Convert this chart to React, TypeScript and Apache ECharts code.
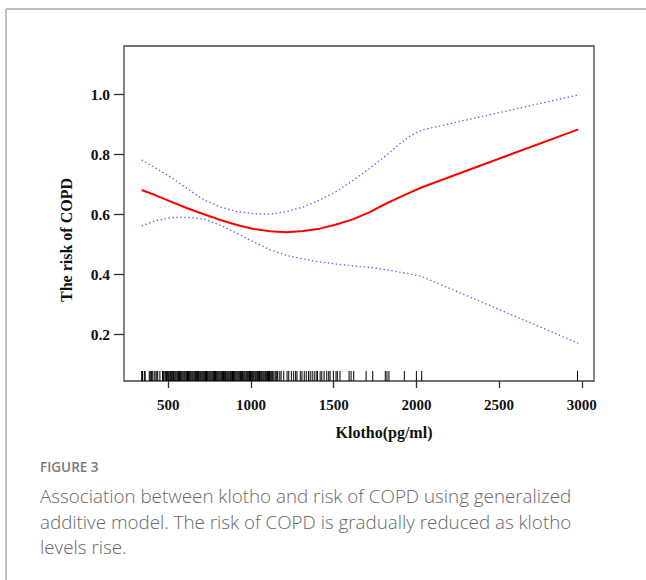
import React, { useEffect, useRef } from "react";
import * as echarts from "echarts";

const xTicks = [500, 1000, 1500, 2000, 2500, 3000];
const yTicks = [0.2, 0.4, 0.6, 0.8, 1.0];

const klotho = [339, 420, 515, 615, 715, 815, 915, 1015, 1115, 1215, 1315, 1415, 1515, 1615, 1715, 1815, 1900, 1960, 2034, 2979];
const fitRisk = [0.681, 0.664, 0.642, 0.62, 0.6, 0.581, 0.564, 0.551, 0.543, 0.54, 0.544, 0.552, 0.566, 0.583, 0.606, 0.635, 0.657, 0.672, 0.69, 0.883];
const upperRisk = [0.781, 0.755, 0.724, 0.685, 0.648, 0.624, 0.609, 0.602, 0.6, 0.609, 0.624, 0.647, 0.676, 0.712, 0.752, 0.795, 0.835, 0.86, 0.881, 0.998];
const lowerRisk = [0.561, 0.578, 0.589, 0.59, 0.584, 0.563, 0.537, 0.508, 0.482, 0.463, 0.451, 0.441, 0.434, 0.428, 0.423, 0.415, 0.407, 0.401, 0.392, 0.17];

const rugKlotho = [
  339, 344, 355, 360, 385, 391, 399, 403, 414, 420, 430, 436, 449, 465, 470, 474, 482, 489, 494, 499,
  503, 509, 514, 520, 524, 531, 535, 541, 546, 552, 557, 562, 568, 573, 578, 584, 589, 595, 600, 606,
  611, 616, 622, 627, 633, 638, 644, 649, 655, 660, 665, 671, 676, 682, 687, 693, 698, 703, 709, 714,
  720, 725, 731, 736, 741, 747, 752, 758, 763, 769, 774, 779, 785, 790, 796, 801, 807, 812, 818, 823,
  828, 834, 839, 845, 850, 856, 861, 866, 872, 877, 883, 888, 894, 899, 904, 910, 915, 921, 926, 932,
  937, 942, 948, 953, 959, 964, 970, 975, 980, 986, 991, 997, 1002, 1008, 1013, 1018, 1024, 1029, 1035,
  1040, 1046, 1051, 1056, 1062, 1067, 1073, 1078, 1084, 1089, 1095, 1100, 1106, 1112, 1119, 1125, 1131,
  1138, 1146, 1152, 1158, 1162, 1174, 1182, 1198, 1218, 1228, 1244, 1258, 1270, 1278, 1298, 1308, 1322,
  1334, 1348, 1358, 1370, 1382, 1394, 1402, 1418, 1428, 1442, 1458, 1470, 1478, 1498, 1514, 1522, 1538,
  1593, 1605, 1621, 1696, 1736, 1812, 1822, 1834, 1927, 2000, 2032, 2974,
];

const xTitle = "Klotho(pg/ml)";
const yTitle = "The risk of COPD";
const figLabel = "FIGURE 3";
const captionLines = [
  "Association between klotho and risk of COPD using generalized",
  "additive model. The risk of COPD is gradually reduced as klotho",
  "levels rise.",
];

const serif = "'Liberation Serif', 'Times New Roman', serif";
const sans = "'Open Sans', 'Noto Sans', sans-serif";

export default function App() {
  const ref = useRef<HTMLDivElement>(null);
  useEffect(() => {
    if (!ref.current) return;
    const chart = echarts.init(ref.current, null, { renderer: "svg" });
    const pairs = (ys: number[]) => klotho.map((x, i) => [x, ys[i]]);
    const rugY = 0.0605;
    const dotted = { color: "#5b5bff", width: 1.3, type: [1.4, 2.6] };
    chart.setOption({
      animation: false,
      backgroundColor: "#ffffff",
      grid: {
        left: 124,
        top: 46,
        width: 470,
        height: 335,
        show: true,
        borderColor: "#444444",
        borderWidth: 1.3,
        backgroundColor: "transparent",
      },
      xAxis: {
        type: "value",
        min: 232,
        max: 3074,
        splitLine: { show: false },
        axisLine: { show: false },
        axisTick: {
          show: true,
          customValues: xTicks,
          length: 7,
          inside: false,
          lineStyle: { color: "#333333", width: 1.3 },
        },
        axisLabel: {
          customValues: xTicks,
          margin: 16,
          fontFamily: serif,
          fontWeight: "bold",
          fontSize: 15,
          color: "#111111",
          formatter: (v: number) => String(v),
        },
      },
      yAxis: {
        type: "value",
        min: 0.044,
        max: 1.161,
        splitLine: { show: false },
        axisLine: { show: false },
        axisTick: {
          show: true,
          customValues: yTicks,
          length: 10,
          inside: false,
          lineStyle: { color: "#333333", width: 1.3 },
        },
        axisLabel: {
          customValues: yTicks,
          margin: 14,
          fontFamily: serif,
          fontWeight: "bold",
          fontSize: 15.5,
          color: "#111111",
          formatter: (v: number) => v.toFixed(1),
        },
      },
      series: [
        {
          type: "scatter",
          silent: true,
          symbol: "rect",
          symbolSize: [1, 10],
          itemStyle: { color: "#000000", opacity: 1 },
          data: rugKlotho.map((x) => [x, rugY]),
          z: 1,
        },
        {
          type: "line",
          silent: true,
          showSymbol: false,
          smooth: false,
          lineStyle: dotted,
          data: pairs(upperRisk),
          z: 2,
        },
        {
          type: "line",
          silent: true,
          showSymbol: false,
          smooth: false,
          lineStyle: dotted,
          data: pairs(lowerRisk),
          z: 2,
        },
        {
          type: "line",
          silent: true,
          showSymbol: false,
          smooth: false,
          lineStyle: { color: "#ff0000", width: 2 },
          data: pairs(fitRisk),
          z: 3,
        },
      ],
      graphic: [
        {
          type: "line",
          shape: { x1: 6, y1: 9, x2: 646, y2: 9 },
          style: { stroke: "#a8a8a8", lineWidth: 1.5 },
        },
        {
          type: "line",
          shape: { x1: 6, y1: 9, x2: 6, y2: 580 },
          style: { stroke: "#a8a8a8", lineWidth: 1.5 },
        },
        {
          type: "text",
          x: 384,
          y: 432,
          style: {
            text: xTitle,
            fontFamily: serif,
            fontWeight: "bold",
            fontSize: 16,
            fill: "#111111",
            align: "center",
            verticalAlign: "middle",
          },
        },
        {
          type: "text",
          x: 66,
          y: 240,
          rotation: Math.PI / 2,
          style: {
            text: yTitle,
            fontFamily: serif,
            fontWeight: "bold",
            fontSize: 16,
            fill: "#111111",
            align: "center",
            verticalAlign: "middle",
          },
        },
        {
          type: "text",
          x: 40,
          y: 467,
          style: {
            text: figLabel,
            fontFamily: sans,
            fontWeight: 600,
            fontSize: 13.5,
            fill: "#7a7a7a",
            align: "left",
            verticalAlign: "middle",
          },
        },
        ...captionLines.map((t, i) => ({
          type: "text",
          x: 40,
          y: 496 + i * 25.5,
          style: {
            text: t,
            fontFamily: sans,
            fontWeight: 300,
            fontSize: 18.8,
            fill: "#666666",
            align: "left",
            verticalAlign: "middle",
          },
        })),
      ],
    });
    return () => chart.dispose();
  }, []);
  return (
    <div
      ref={ref}
      style={{ position: "absolute", left: 0, top: 0, width: 646, height: 580 }}
    />
  );
}
